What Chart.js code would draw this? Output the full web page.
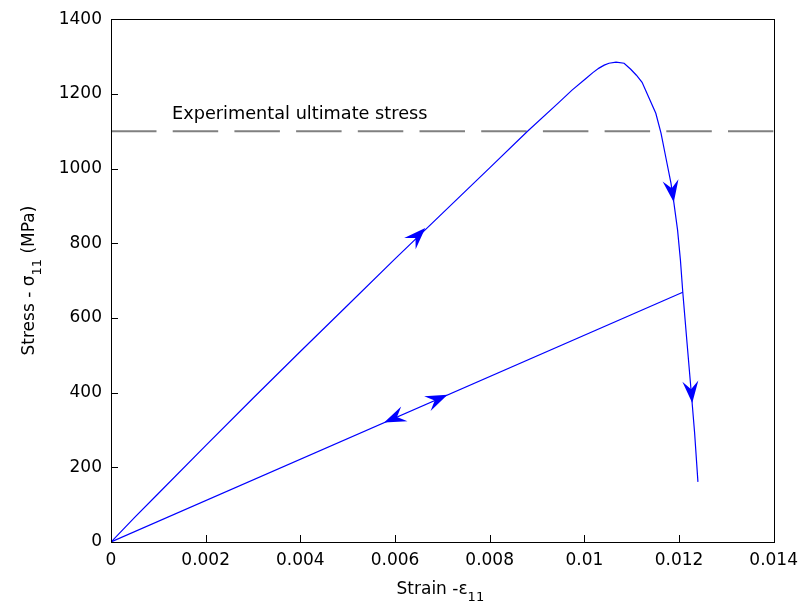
<!DOCTYPE html>
<html>
<head>
<meta charset="utf-8">
<script src="https://cdn.jsdelivr.net/npm/chart.js@4.4.0/dist/chart.umd.min.js"></script>
<style>
  html, body { margin: 0; padding: 0; background: #fff; }
</style>
</head>
<body>
<canvas id="stressChart" width="806" height="602"></canvas>
<script>
// loading + softening branch
const strainLoad = [0, 0.0005, 0.001, 0.002, 0.003, 0.004, 0.005, 0.006, 0.007, 0.008, 0.0088, 0.00947, 0.00974, 0.01004, 0.01018, 0.01031, 0.01042, 0.01052, 0.01067, 0.01084, 0.01098, 0.0111, 0.01122, 0.01136, 0.01151, 0.01162, 0.01172, 0.01183, 0.01189, 0.01197, 0.01203, 0.01208, 0.01217, 0.01226, 0.01233, 0.0124];
const stressLoad = [0, 66, 130, 258, 385, 510, 634, 758, 880, 1002, 1100, 1178, 1210, 1242, 1257, 1269, 1277, 1282, 1285, 1282, 1266, 1250, 1231, 1191, 1148, 1095, 1031, 961, 910, 835, 755, 669, 533, 399, 292, 161];

// elastic unloading line
const strainUnload = [0, 0.01208];
const stressUnload = [0, 669];

// experimental ultimate stress
const ultStrain = [0, 0.014];
const ultStress = [1100, 1100];
const ultLabel = 'Experimental ultimate stress';
const ultLabelAt = [0.00129, 1132];

// arrow heads: tip and a point behind it on the curve
const arrowTipStrain = [0.00664, 0.01189, 0.01228, 0.00577, 0.00711];
const arrowTipStress = [841, 910, 372, 320, 394];
const arrowTailStrain = [0.0060, 0.01183, 0.01217, 0.0066, 0.0063];
const arrowTailStress = [758, 961, 533, 365, 349];

const xTicks = [0, 0.002, 0.004, 0.006, 0.008, 0.01, 0.012, 0.014];
const yTicks = [0, 200, 400, 600, 800, 1000, 1200, 1400];

const FONT = '"DejaVu Sans", sans-serif';

function toPoints(xs, ys) {
  return xs.map((x, i) => ({ x: x, y: ys[i] }));
}

function drawArrow(ctx, tx, ty, bx, by) {
  const ang = Math.atan2(ty - by, tx - bx);
  ctx.save();
  ctx.translate(tx, ty);
  ctx.rotate(ang);
  ctx.beginPath();
  ctx.moveTo(0, 0);
  ctx.lineTo(-22, -8);
  ctx.lineTo(-14, 0);
  ctx.lineTo(-22, 8);
  ctx.closePath();
  ctx.fill();
  ctx.restore();
}

const decorPlugin = {
  id: 'decor',
  afterDatasetsDraw(chart) {
    const ctx = chart.ctx;
    const xs = chart.scales.x;
    const ys = chart.scales.y;
    const a = chart.chartArea;

    // arrows
    ctx.fillStyle = '#0000ff';
    arrowTipStrain.forEach((s, i) => {
      drawArrow(ctx,
        xs.getPixelForValue(s), ys.getPixelForValue(arrowTipStress[i]),
        xs.getPixelForValue(arrowTailStrain[i]), ys.getPixelForValue(arrowTailStress[i]));
    });

    // annotation
    ctx.fillStyle = '#000';
    ctx.font = '17.7px ' + FONT;
    ctx.textAlign = 'left';
    ctx.textBaseline = 'alphabetic';
    ctx.fillText(ultLabel, xs.getPixelForValue(ultLabelAt[0]), ys.getPixelForValue(ultLabelAt[1]));

    // box and inward ticks
    ctx.save();
    ctx.strokeStyle = '#000';
    ctx.lineWidth = 1;
    ctx.strokeRect(Math.round(a.left) + 0.5, Math.round(a.top) + 0.5,
      Math.round(a.right - a.left), Math.round(a.bottom - a.top));
    ctx.beginPath();
    xTicks.forEach(v => {
      const px = Math.round(xs.getPixelForValue(v)) + 0.5;
      ctx.moveTo(px, a.bottom);
      ctx.lineTo(px, a.bottom - 7);
    });
    yTicks.forEach(v => {
      const py = Math.round(ys.getPixelForValue(v)) + 0.5;
      ctx.moveTo(a.left, py);
      ctx.lineTo(a.left + 7, py);
    });
    ctx.stroke();
    ctx.restore();

    // x title with subscript
    ctx.save();
    ctx.fillStyle = '#000';
    ctx.textBaseline = 'alphabetic';
    ctx.textAlign = 'left';
    ctx.font = '17px ' + FONT;
    const xMain = 'Strain -\u03b5';
    const wMain = ctx.measureText(xMain).width;
    ctx.font = '13px ' + FONT;
    const wSub = ctx.measureText('11').width;
    let x0 = (a.left + a.right) / 2 - (wMain + wSub) / 2 - 2;
    ctx.font = '17px ' + FONT;
    ctx.fillText(xMain, x0, 594);
    ctx.font = '13px ' + FONT;
    ctx.fillText('11', x0 + wMain, 601);
    ctx.restore();

    // y title with subscript
    ctx.save();
    ctx.fillStyle = '#000';
    ctx.translate(34, (a.top + a.bottom) / 2);
    ctx.rotate(-Math.PI / 2);
    ctx.textBaseline = 'alphabetic';
    ctx.textAlign = 'left';
    ctx.font = '17px ' + FONT;
    const yA = 'Stress - \u03c3';
    const yB = ' (MPa)';
    const wA = ctx.measureText(yA).width;
    const wB = ctx.measureText(yB).width;
    ctx.font = '13px ' + FONT;
    const wS = ctx.measureText('11').width;
    let y0 = -(wA + wS + wB) / 2;
    ctx.font = '17px ' + FONT;
    ctx.fillText(yA, y0, 0);
    ctx.fillText(yB, y0 + wA + wS, 0);
    ctx.font = '13px ' + FONT;
    ctx.fillText('11', y0 + wA, 7);
    ctx.restore();
  }
};

const chart = new Chart(document.getElementById('stressChart'), {
  type: 'scatter',
  data: {
    datasets: [
      {
        label: 'Loading',
        data: toPoints(strainLoad, stressLoad),
        showLine: true,
        borderColor: '#0000ff',
        borderWidth: 1.2,
        pointRadius: 0,
        tension: 0,
      },
      {
        label: 'Unloading',
        data: toPoints(strainUnload, stressUnload),
        showLine: true,
        borderColor: '#0000ff',
        borderWidth: 1.2,
        pointRadius: 0,
      },
      {
        label: 'Experimental ultimate stress',
        data: toPoints(ultStrain, ultStress),
        showLine: true,
        borderColor: '#808080',
        borderWidth: 2,
        borderDash: [45.5, 16.2],
        pointRadius: 0,
      },
    ],
  },
  options: {
    responsive: false,
    animation: false,
    layout: { padding: { left: 0, top: 19, right: 31, bottom: 0 } },
    plugins: {
      legend: { display: false },
      tooltip: { enabled: false },
    },
    scales: {
      x: {
        type: 'linear',
        min: 0,
        max: 0.014,
        afterBuildTicks: (scale) => { scale.ticks = xTicks.map(v => ({ value: v })); },
        afterFit: (scale) => { scale.height = 60; },
        grid: { display: false, drawTicks: false },
        border: { display: false },
        ticks: {
          color: '#000',
          font: { family: FONT, size: 17 },
          padding: 8,
          maxRotation: 0,
          callback: (v) => String(Number(v.toFixed(3))),
        },
      },
      y: {
        type: 'linear',
        min: 0,
        max: 1400,
        afterBuildTicks: (scale) => { scale.ticks = yTicks.map(v => ({ value: v })); },
        afterFit: (scale) => { scale.width = 111; },
        grid: { display: false, drawTicks: false },
        border: { display: false },
        ticks: {
          color: '#000',
          font: { family: FONT, size: 17 },
          padding: 9,
          callback: (v) => String(v),
        },
      },
    },
  },
  plugins: [decorPlugin],
});
</script>
</body>
</html>
